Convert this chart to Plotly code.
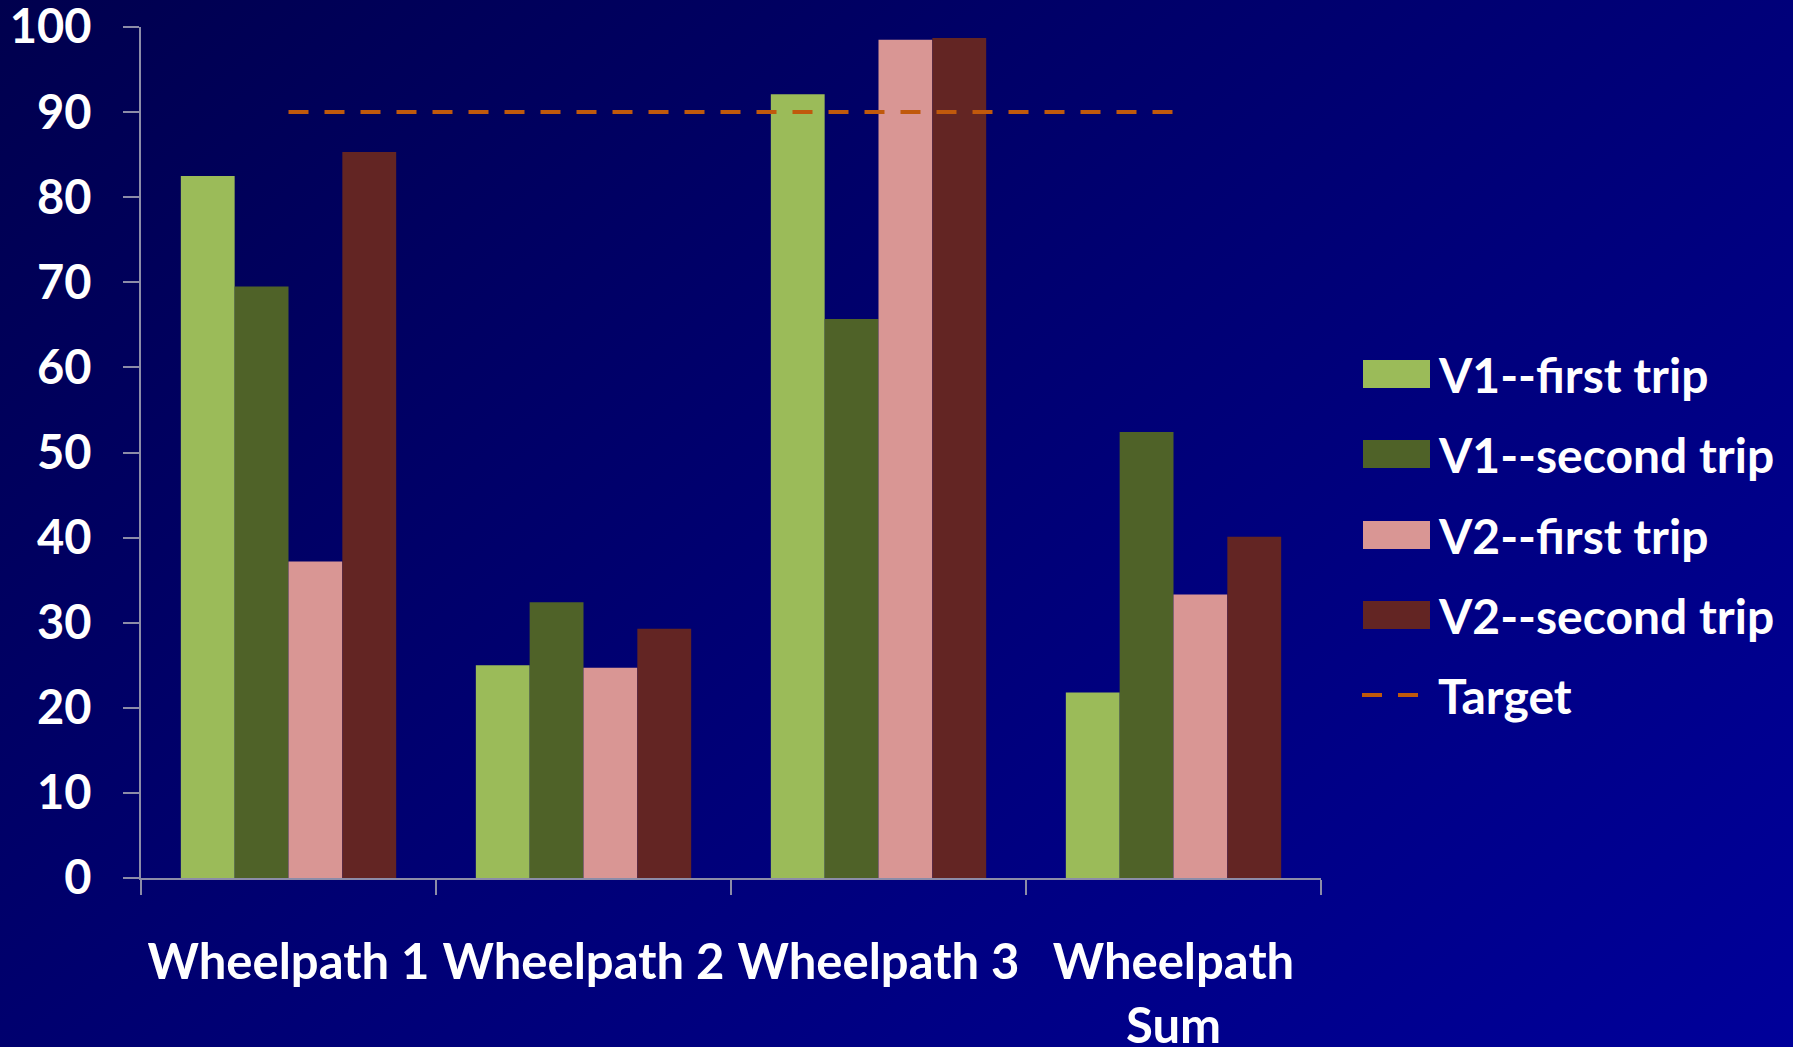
import base64
import plotly.graph_objects as go

# ---------------- data ----------------
categories = ["Wheelpath 1", "Wheelpath 2", "Wheelpath 3", "Wheelpath<br>Sum"]
series_names = ["V1--first trip", "V1--second trip", "V2--first trip", "V2--second trip"]
v1_first = [82.5, 25.0, 92.1, 21.8]
v1_second = [69.5, 32.4, 65.7, 52.4]
v2_first = [37.2, 24.7, 98.5, 33.3]
v2_second = [85.3, 29.3, 98.7, 40.1]
target_name = "Target"
target_values = [90, 90, 90, 90]
y_ticks = [0, 10, 20, 30, 40, 50, 60, 70, 80, 90, 100]

series_values = [v1_first, v1_second, v2_first, v2_second]
colors = ["#9BBB59", "#4F6228", "#D99694", "#632523"]
target_color = "#C0590C"

# ---------------- layout geometry (pixels) ----------------
W, H = 1793, 1047
L, R, T, B = 141, 472, 27, 169
PW = W - L - R
PH = H - T - B

def px2x(px):
    return (px - L) / PW

def py2y(py):
    return (H - B - py) / PH

FONT = dict(family="Lato", size=49, color="white", weight="bold")
LFONT = dict(family="Lato", size=48, color="white", weight="bold")
YFONT = dict(family="Lato", size=47, color="white", weight="bold")

fig = go.Figure()
for name, vals, col in zip(series_names, series_values, colors):
    fig.add_trace(go.Bar(
        x=categories, y=vals, name=name,
        marker=dict(color=col, line=dict(width=0)),
        showlegend=False,
    ))

fig.add_trace(go.Scatter(
    x=categories, y=target_values, name=target_name, mode="lines",
    line=dict(color=target_color, width=4, dash="20px,16px"),
    showlegend=False,
))

# background gradient as an inline svg image
svg = (
    '<svg xmlns="http://www.w3.org/2000/svg" width="200" height="120" viewBox="0 0 200 120" '
    'preserveAspectRatio="none"><defs><linearGradient id="g" x1="0" y1="0" x2="1.12" y2="0.84">'
    '<stop offset="0" stop-color="#00004E"/><stop offset="1" stop-color="#00009A"/>'
    '</linearGradient></defs><rect width="200" height="120" fill="url(#g)"/></svg>'
)
src = "data:image/svg+xml;base64," + base64.b64encode(svg.encode()).decode()

images = [dict(
    source=src, xref="paper", yref="paper",
    x=px2x(0), y=py2y(0), sizex=W / PW, sizey=H / PH,
    xanchor="left", yanchor="top", sizing="stretch", layer="below",
)]

# custom legend
shapes = []
annotations = []
legend_y = [374, 454, 535, 615]
for name, col, cy in zip(series_names, colors, legend_y):
    shapes.append(dict(
        type="rect", xref="paper", yref="paper",
        x0=px2x(1363), x1=px2x(1430), y0=py2y(cy - 14), y1=py2y(cy + 14),
        fillcolor=col, line=dict(width=0),
    ))
    annotations.append(dict(
        text=name, xref="paper", yref="paper", x=px2x(1436), y=py2y(cy),
        xanchor="left", yanchor="middle", showarrow=False, font=LFONT,
    ))
ty = 695
shapes.append(dict(
    type="line", xref="paper", yref="paper",
    x0=px2x(1362), x1=px2x(1418), y0=py2y(ty), y1=py2y(ty),
    line=dict(color=target_color, width=4, dash="20px,16px"),
))
annotations.append(dict(
    text=target_name, xref="paper", yref="paper", x=px2x(1436), y=py2y(ty),
    xanchor="left", yanchor="middle", showarrow=False, font=LFONT,
))

fig.update_layout(
    width=W, height=H,
    margin=dict(l=L, r=R, t=T, b=B, pad=0, autoexpand=False),
    paper_bgcolor="#000066",
    plot_bgcolor="rgba(0,0,0,0)",
    barmode="group", bargap=0.27, bargroupgap=0,
    images=images, shapes=shapes, annotations=annotations,
    showlegend=False,
    font=FONT,
)
fig.update_xaxes(
    automargin=False,
    showgrid=False, zeroline=False,
    showline=True, linecolor="#8C8CA8", linewidth=2,
    ticks="outside", tickson="boundaries", ticklen=15, tickcolor="#8C8CA8", tickwidth=2,
    tickfont=FONT, ticklabelstandoff=40, ticklabeloverflow="allow",
)
fig.update_yaxes(
    automargin=False,
    range=[0, 100], tickvals=y_ticks,
    showgrid=False, zeroline=False,
    showline=True, linecolor="#8C8CA8", linewidth=2,
    ticks="outside", ticklen=16, tickcolor="#8C8CA8", tickwidth=2,
    tickfont=YFONT, ticklabelstandoff=22, ticklabeloverflow="allow",
)

fig.write_html("out.html")
